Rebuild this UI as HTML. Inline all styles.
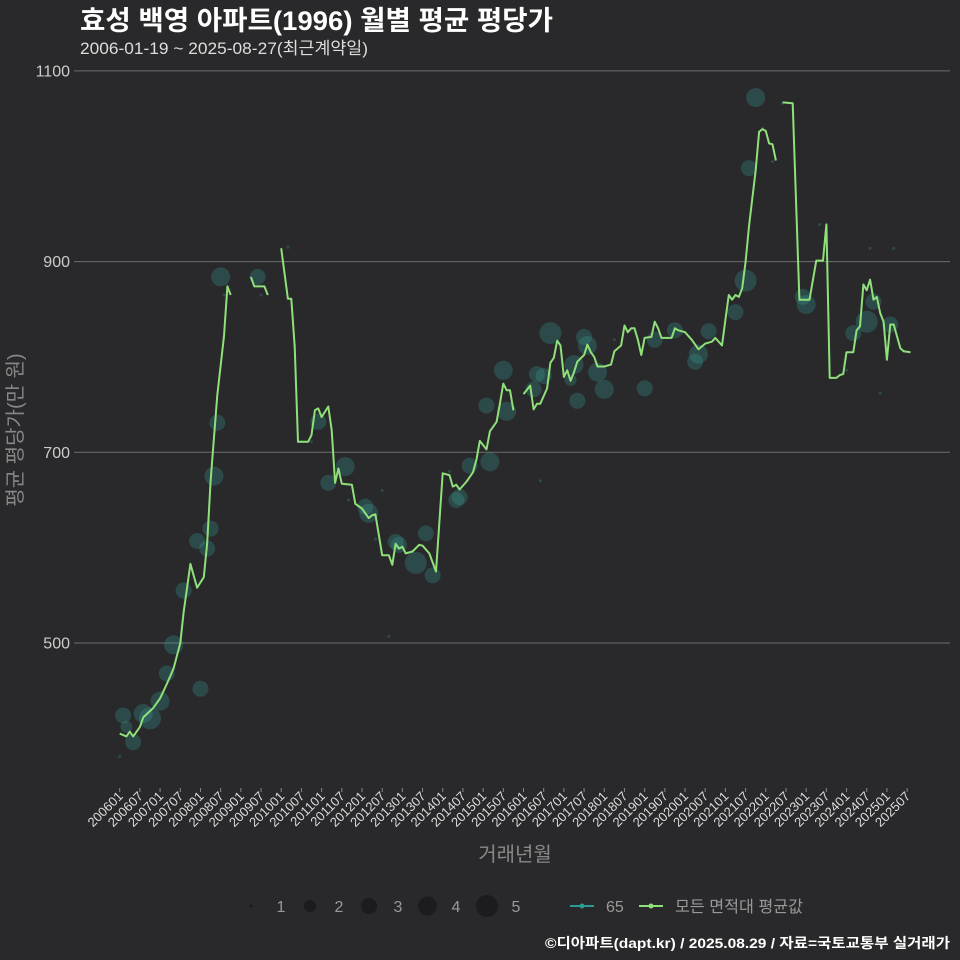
<!DOCTYPE html>
<html><head><meta charset="utf-8"><style>
body{margin:0;background:#29292b;}
svg{display:block;font-family:"Liberation Sans","Noto Sans CJK KR",sans-serif;}
</style></head><body>
<svg id="chart" width="960" height="960" viewBox="0 0 960 960">
<rect width="960" height="960" fill="#29292b"/>
<text x="80" y="30" fill="#ffffff" font-size="27" font-weight="bold" textLength="473" lengthAdjust="spacingAndGlyphs">효성 백영 아파트(1996) 월별 평균 평당가</text>
<text x="80" y="54" fill="#dddddd" font-size="17" textLength="288" lengthAdjust="spacingAndGlyphs">2006-01-19 ~ 2025-08-27(최근계약일)</text>
<g id="grid"></g>
<g id="xaxis"></g>
<g id="bubbles"></g>
<g id="lines"></g>
<text x="0" y="0" transform="translate(22,430) rotate(-90)" text-anchor="middle" fill="#888888" font-size="20">평균 평당가(만 원)</text>
<text x="515" y="861" text-anchor="middle" fill="#888888" font-size="20">거래년월</text>
<g>
<circle cx="251" cy="906" r="1.5" fill="#1c1c1e"/><text x="281" y="912" text-anchor="middle" fill="#999" font-size="16">1</text>
<circle cx="310" cy="906" r="6" fill="#1c1c1e"/><text x="339" y="912" text-anchor="middle" fill="#999" font-size="16">2</text>
<circle cx="369" cy="906" r="8" fill="#1c1c1e"/><text x="398" y="912" text-anchor="middle" fill="#999" font-size="16">3</text>
<circle cx="427.5" cy="906" r="9.5" fill="#1c1c1e"/><text x="456" y="912" text-anchor="middle" fill="#999" font-size="16">4</text>
<circle cx="487" cy="906" r="11" fill="#1c1c1e"/><text x="516" y="912" text-anchor="middle" fill="#999" font-size="16">5</text>
<line x1="570" y1="906" x2="594" y2="906" stroke="#2a9d93" stroke-width="2"/><circle cx="582" cy="906" r="2.5" fill="#2a9d93"/>
<text x="606" y="912" fill="#999" font-size="16">65</text>
<line x1="639" y1="906" x2="663" y2="906" stroke="#8fe07a" stroke-width="2"/><circle cx="651" cy="906" r="2.5" fill="#8fe07a"/>
<text x="675" y="912" fill="#999" font-size="16" textLength="128" lengthAdjust="spacingAndGlyphs">모든 면적대 평균값</text>
</g>
<text x="950" y="948" text-anchor="end" fill="#ffffff" font-size="14" font-weight="bold" textLength="405" lengthAdjust="spacingAndGlyphs">©디아파트(dapt.kr) / 2025.08.29 / 자료=국토교통부 실거래가</text>
</svg>
<script>
const yTicks=[500,700,900,1100];
const lineMonths=[0,2,3,4,6,7,10,12,14,16,18,19,21,23,25,26,27,29,31,32,33,34,39,40,43,44,45,48,50,51,52,53,56,57,58,59,60,62,63,64,65,66,69,70,72,74,75,76,78,80,81,82,83,84,85,87,89,90,92,94,96,98,99,100,101,103,105,106,107,109,110,112,113,114,115,116,117,118,120,122,123,124,125,127,128,129,130,131,132,133,134,135,136,138,139,140,141,142,144,146,147,149,150,151,152,153,154,155,156,158,159,160,161,164,165,166,168,170,172,174,176,177,179,180,181,182,183,184,185,186,187,189,190,191,192,193,194,195,196,197,200,202,205,207,209,210,211,213,214,215,216,218,219,220,221,222,223,224,225,226,227,228,229,230,232,233,235];
const lineValues=[405,402,407,402,412,422,432,442,457,473,500,532,583,558,569,605,670,760,822,874,865,null,884,874,874,865,null,914,861,861,811,711,711,718,744,746,737,748,723,668,683,667,666,646,641,631,634,635,592,592,582,604,599,601,594,596,603,602,594,575,678,676,664,666,661,669,679,692,712,703,722,732,751,772,765,765,744,null,761,770,745,751,751,767,794,799,817,812,779,786,775,784,795,802,813,805,800,790,790,792,806,812,833,826,830,830,818,802,820,821,837,830,820,820,830,828,826,818,808,814,816,820,812,839,865,860,865,863,872,900,937,996,1036,1039,1037,1024,1023,1006,null,1067,1066,860,860,901,901,939,778,778,781,782,805,805,828,832,876,870,881,860,863,846,837,797,834,834,809,806,805];
const bubMonths=[0,1,2,4,7,9,12,14,16,19,24,23,26,27,28,29,30,31,41,42,50,52,54,59,57,62,67,68,73,74,76,78,80,82,83,88,91,93,98,100,101,104,110,109,114,115,123,124,126,128,125,135,134,138,139,142,144,136,147,156,159,165,171,172,175,183,186,187,189,191,194,197,203,204,208,216,218,222,224,223,226,229,230,233];
const bubValues=[381,424,412,396,426,421,439,468,498,555,452,607,599,620,675,731,884,865,884,865,915,812,711,732,711,668,685,650,643,636,609,660,507,606,603,584,615,571,680,650,653,686,690,749,786,743,766,782,780,825,670,792,776,821,812,784,766,754,818,767,818,828,795,803,827,847,880,998,1072,1040,1005,1066,863,855,939,786,825,837,858,914,762,834,914,806];
const bubCounts=[1,3,2,3,4,5,4,3,4,3,3,3,3,3,4,3,4,1,3,1,1,1,1,3,1,3,4,1,3,4,1,1,1,3,3,5,3,3,1,3,3,3,4,3,4,4,3,3,3,5,1,4,2,3,4,4,4,3,1,3,3,3,3,4,3,3,5,3,4,1,1,1,3,4,1,1,3,5,3,1,1,3,1,1];
const xTickLabels=[];for(let y=2006;y<=2025;y++){xTickLabels.push(y+'01');xTickLabels.push(y+'07');}
const sizeR=[0,1.5,6,8,9.5,11];
const NS='http://www.w3.org/2000/svg';
function xs(m){return 119.7+m*3.365;}
function ys(v){return 643-(v-500)*0.9535;}
function mk(t,a,p){const e=document.createElementNS(NS,t);for(const k in a)e.setAttribute(k,a[k]);p.appendChild(e);return e;}
const grid=document.getElementById('grid');
yTicks.forEach(v=>{
 const l=mk('line',{x1:80,x2:950,y1:ys(v),y2:ys(v),stroke:'#6e6e6e','stroke-width':1},grid);
 
 
 const tk=mk('line',{x1:74,x2:80,y1:ys(v),y2:ys(v),stroke:'#6e6e6e'},grid);
 
 
 const t=mk('text',{x:70,y:ys(v)+5.5,'text-anchor':'end',fill:'#cccccc','font-size':16},grid);
 t.textContent=v;
 
 
});
const xa=document.getElementById('xaxis');
xTickLabels.forEach((lab,i)=>{
 const x=xs(i*6);
 const tk=mk('line',{x1:x,x2:x,y1:788,y2:792,stroke:'#888'},xa);
 
 
 const t=mk('text',{x:0,y:0,transform:'translate('+(x+4)+',797) rotate(-45)','text-anchor':'end',fill:'#dddddd','font-size':13},xa);
 t.textContent=lab;
 
 
});
const bg=document.getElementById('bubbles');
bubMonths.forEach((m,i)=>{
 const c=mk('circle',{cx:xs(m),cy:ys(bubValues[i]),r:sizeR[bubCounts[i]],fill:'#3aa39a','fill-opacity':0.28},bg);
 
 
});
const lg=document.getElementById('lines');
let seg=[];
function flush(){if(seg.length>1){const p=mk('polyline',{points:seg.join(' '),fill:'none',stroke:'#8fe07a','stroke-width':2,'stroke-linejoin':'round'},lg);
 
 }seg=[];}
lineMonths.forEach((m,i)=>{const v=lineValues[i];if(v===null){flush();}else seg.push(xs(m).toFixed(1)+','+ys(v).toFixed(1));});
flush();
</script>
</body></html>
